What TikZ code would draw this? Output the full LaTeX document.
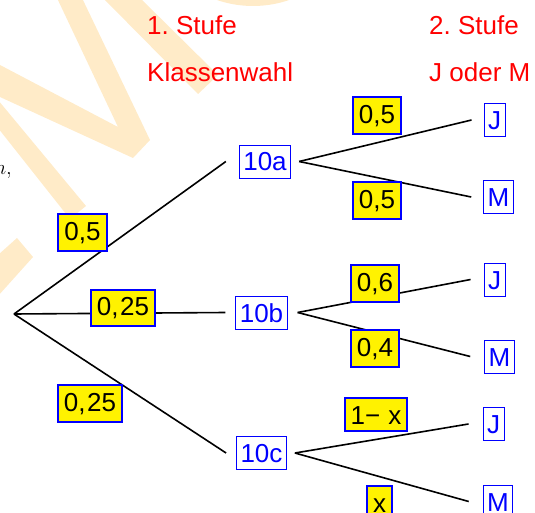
\documentclass[tikz,border=0pt]{standalone}
\usepackage{fontspec}
\setmainfont{Liberation Sans}
\frenchspacing
\definecolor{wm}{RGB}{255,235,200}
\begin{document}
\begin{tikzpicture}[x=1pt,y=-1pt,
  every node/.style={font=\fontsize{26}{30}\selectfont},
  cls/.style={draw=blue, line width=0.9pt, text=blue, inner xsep=4pt, inner ysep=7pt,
              text height=19pt, text depth=0pt},
  prob/.style={draw=blue, fill=yellow, line width=2pt, inner xsep=6pt, inner ysep=7pt,
               text height=19pt},
  head/.style={text=red, anchor=base west, inner sep=0pt},
  branch/.style={line width=1.6pt, black},
  wmfill/.style={fill=wm}
]
\useasboundingbox (0,0) rectangle (535,513);
\clip (0,0) rectangle (535,513);

% faint background lettering
\fill[wmfill] (57,-2) -- (118,127) -- (0,65) -- (0,97) -- (133,158) -- (150,140) -- (82,-2) -- cycle;
\fill[wmfill] (103,-2) -- (140,-2) -- (218,75) -- (198,94) -- cycle;
\fill[wmfill] (-2,100) -- (86,206) -- (70,219) -- (-2,128) -- cycle;
\fill[wmfill] (-2,255) -- (17,238) -- (33,257) -- (-2,296) -- cycle;
\fill[wmfill, even odd rule] (253,-105) circle[radius=111pt] (253,-105) circle[radius=81pt];

% fragment of the surrounding text
\node[anchor=base east, inner sep=0pt, font=\fontsize{20}{24}\selectfont] (frag) at (12,175) {$n,$};

% first stage
\coordinate (root) at (14,314);
\node[cls] (a) at (265,161.5) {10a};
\node[cls] (b) at (261.5,312.5) {10b};
\node[cls] (c) at (261.5,453) {10c};

% second stage
\node[cls] (aJ) at (494.5,120) {J};
\node[cls] (aM) at (498.5,197) {M};
\node[cls] (bJ) at (494.5,279.5) {J};
\node[cls] (bM) at (499.5,356.5) {M};
\node[cls] (cJ) at (493.5,424) {J};
\node[cls] (cM) at (498,501.5) {M};

% branches
\draw[branch] (root) -- ([xshift=-13pt]a.west);
\draw[branch] (root) -- ([xshift=-10pt]b.west);
\draw[branch] (root) -- ([xshift=-10pt]c.west);
\draw[branch] ([xshift=8pt]a.east) -- ([xshift=-12pt]aJ.west);
\draw[branch] ([xshift=8pt]a.east) -- ([xshift=-12pt]aM.west);
\draw[branch] ([xshift=10pt]b.east) -- ([xshift=-13pt]bJ.west);
\draw[branch] ([xshift=10pt]b.east) -- ([xshift=-14pt]bM.west);
\draw[branch] ([xshift=8pt]c.east) -- ([xshift=-14pt]cJ.west);
\draw[branch] ([xshift=8pt]c.east) -- ([xshift=-14pt]cM.west);

% probabilities
\node[prob] (pa) at (82.5,232.5) {0,5};
\node[prob] (pb) at (123,308) {0,\hspace{1.5pt}25};
\node[prob] (pc) at (90,403.5) {0,\hspace{1.5pt}25};
\node[prob] (paJ) at (377,115.5) {0,5};
\node[prob] (paM) at (377,200.5) {0,5};
\node[prob] (pbJ) at (375,283.5) {0,6};
\node[prob] (pbM) at (375,348.5) {0,4};
\node[prob] (pcJ) at (376,414.5) {1−\hspace{8pt}x};
\node[prob] (pcM) at (379.5,502.5) {x};

% column headings
\node[head] (h1) at (147,35) {1. Stufe};
\node[head] (h2) at (147,82) {Klassenwahl};
\node[head] (h3) at (429,35) {2. Stufe};
\node[head] (h4) at (429,82) {J oder M};
\end{tikzpicture}
\end{document}
